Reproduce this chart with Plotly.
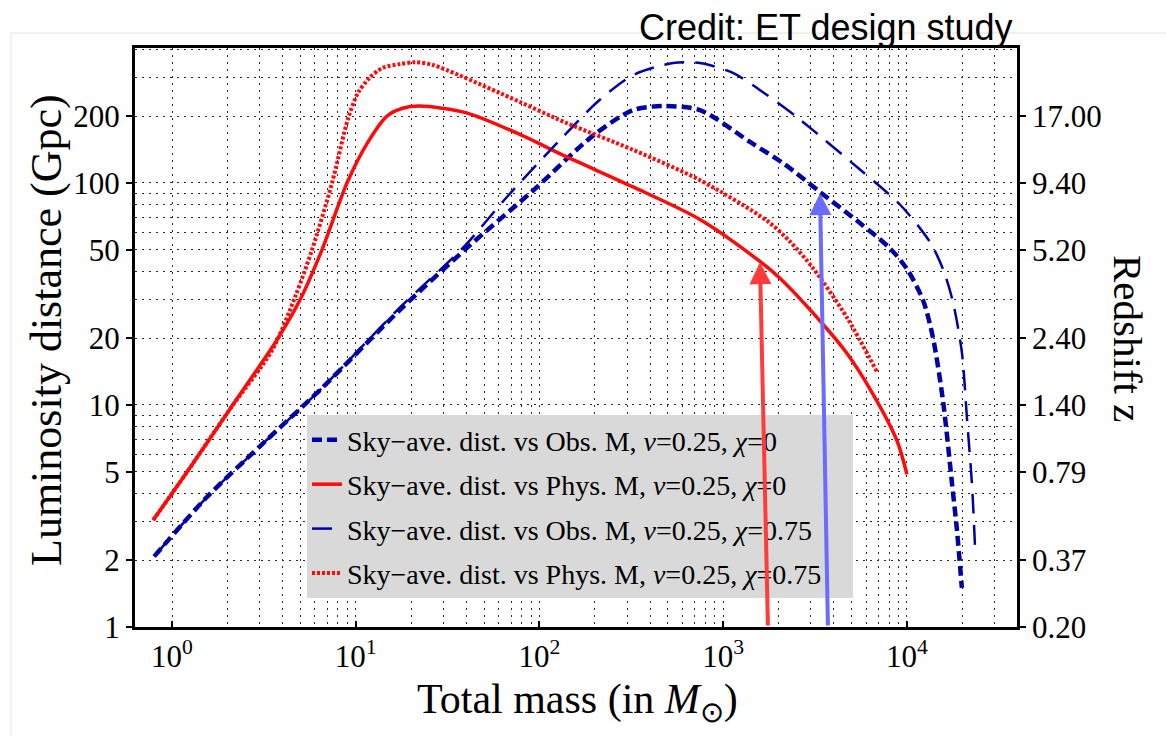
import numpy as np
import plotly.graph_objects as go

# ---------------- data ----------------
obs_chi0_mass = [0.8, 1.55, 3.0, 6.4, 17.4, 40.3, 93, 195, 323, 470, 747, 1400, 2170, 3363, 5547, 8077,
                 10000, 12220, 13840, 15700, 17580, 18710, 19900]
obs_chi0_dist = [2.08, 3.85, 6.5, 11.7, 26.8, 51, 93, 163, 213, 222, 213, 153, 121, 91, 66, 50.8,
                 41, 29.7, 20.2, 10.5, 4.45, 2.74, 1.5]

obs_chi075_mass = [0.8, 1.55, 3.0, 6.4, 17.4, 38.3, 66.5, 129, 213, 323, 533, 747, 1130, 1730, 2518, 3076,
                   5547, 9160, 13340, 15700, 17800, 19900, 21230, 22600, 23450]
obs_chi075_dist = [2.08, 3.85, 6.5, 11.7, 27.5, 51, 86.5, 156, 237, 306, 347, 347, 313, 249, 198, 173,
                   115, 80, 54.2, 41, 29.1, 17.3, 8.65, 4.37, 2.34]

phys_chi0_mass = [0.79, 1.21, 2.07, 3.78, 5.0, 6.55, 8.96, 11.5, 14.8, 18, 22.4, 40, 75, 141, 323, 747,
                  1585, 2037, 3490, 4710, 6530, 8830, 10000]
phys_chi0_dist = [3.03, 5.0, 9.6, 20.0, 30.0, 50, 100, 150, 200, 217, 222, 207, 168, 131, 96, 68.5,
                  44.3, 37.2, 23.1, 17.1, 11.2, 6.9, 4.87]

phys_chi075_mass = [0.79, 1.21, 2.07, 3.5, 4.7, 5.78, 7.43, 9.08, 10.3, 11.9, 14, 17.4, 21, 26.3, 61, 141,
                    323, 747, 1730, 2307, 3076, 4710, 6870]
phys_chi075_dist = [3.03, 5.0, 9.6, 17.6, 31, 50, 100, 195, 255, 298, 330, 343, 350, 340, 254, 186,
                    141, 103, 67.6, 54.5, 41.4, 24.8, 14.1]

legend_names = [
    "Sky\u2212ave. dist. vs Obs. M, <i>\u03bd</i>=0.25, <i>\u03c7</i>=0",
    "Sky\u2212ave. dist. vs Phys. M, <i>\u03bd</i>=0.25, <i>\u03c7</i>=0",
    "Sky\u2212ave. dist. vs Obs. M, <i>\u03bd</i>=0.25, <i>\u03c7</i>=0.75",
    "Sky\u2212ave. dist. vs Phys. M, <i>\u03bd</i>=0.25, <i>\u03c7</i>=0.75",
]

# arrows: (tip mass, tip distance) -> (tail mass, tail distance)
arrow_tip_mass = [1585, 3363]
arrow_tip_dist = [44, 90]
arrow_tail_mass = [1752, 3715]
arrow_tail_dist = [1, 1]
arrow_colors = ["#ff3b3b", "#6b6bff"]

x_tick_vals = [1, 10, 100, 1000, 10000]
x_tick_text = ["10<sup>0</sup>", "10<sup>1</sup>", "10<sup>2</sup>", "10<sup>3</sup>", "10<sup>4</sup>"]
y_tick_vals = [1, 2, 5, 10, 20, 50, 100, 200]
y_tick_text = ["1", "2", "5", "10", "20", "50", "100", "200"]
z_tick_text = ["0.20", "0.37", "0.79", "1.40", "2.40", "5.20", "9.40", "17.00"]

x_minor = [m * 10 ** d for d in range(0, 5) for m in range(2, 10)]
y_minor = [m * 10 ** d for d in range(0, 3) for m in range(2, 10)]

SERIF = "Liberation Serif"
NAVY = "#0000a8"
RED = "#ff0a0a"
GRID = "#2a2a2a"

fig = go.Figure()

fig.add_trace(go.Scatter(x=obs_chi0_mass, y=obs_chi0_dist, mode="lines", name=legend_names[0],
                         legendgroup="a",
                         line=dict(color=NAVY, width=4.5, dash="10px,5px", shape="spline", smoothing=0.8)))
fig.add_trace(go.Scatter(x=phys_chi0_mass, y=phys_chi0_dist, mode="lines", name=legend_names[1],
                         legendgroup="b",
                         line=dict(color=RED, width=3.5, shape="spline", smoothing=0.8)))
fig.add_trace(go.Scatter(x=obs_chi075_mass, y=obs_chi075_dist, mode="lines", name=legend_names[2],
                         legendgroup="c",
                         line=dict(color=NAVY, width=2.5, dash="20px,11px", shape="spline", smoothing=0.8)))
fig.add_trace(go.Scatter(x=phys_chi075_mass, y=phys_chi075_dist, mode="lines", name=legend_names[3],
                         legendgroup="d",
                         line=dict(color=RED, width=4, dash="3px,2px", shape="spline", smoothing=0.8)))
# carrier trace for the redshift axis
fig.add_trace(go.Scatter(x=obs_chi0_mass, y=obs_chi0_dist, mode="none", yaxis="y2",
                         showlegend=False, hoverinfo="skip"))

x_range = [-0.2014, 4.599]
y_range = [0, 2.608]

fig.update_layout(
    width=1166, height=736,
    margin=dict(l=135, r=149, t=48, b=109),
    paper_bgcolor="white", plot_bgcolor="white",
    font=dict(family=SERIF, color="black", size=31),
    showlegend=True,
    legend=dict(x=0.195, y=0.366, xanchor="left", yanchor="top",
                bgcolor="rgba(0,0,0,0)", borderwidth=0,
                font=dict(family=SERIF, size=28, color="black"),
                traceorder="grouped", tracegroupgap=5),
    xaxis=dict(type="log", range=x_range, tickvals=x_tick_vals, ticktext=x_tick_text,
               showline=True, linecolor="black", linewidth=2.5, mirror=True,
               ticks="inside", ticklen=6, tickwidth=2, tickcolor="black",
               showgrid=True, gridcolor=GRID, gridwidth=1, griddash="2px,5px",
               minor=dict(tickvals=x_minor, showgrid=True, gridcolor=GRID, gridwidth=1,
                          griddash="2px,5px", ticks=""),
               tickfont=dict(family=SERIF, size=31), zeroline=False),
    yaxis=dict(type="log", range=y_range, tickvals=y_tick_vals, ticktext=y_tick_text,
               showline=True, linecolor="black", linewidth=3, mirror=False,
               ticks="outside", ticklen=6, tickwidth=2, tickcolor="black",
               showgrid=True, gridcolor=GRID, gridwidth=1, griddash="2px,5px",
               minor=dict(tickvals=y_minor, showgrid=True, gridcolor=GRID, gridwidth=1,
                          griddash="2px,5px", ticks=""),
               tickfont=dict(family=SERIF, size=31), zeroline=False),
    yaxis2=dict(type="log", range=y_range, overlaying="y", side="right",
                tickvals=y_tick_vals, ticktext=z_tick_text,
                showline=True, linecolor="black", linewidth=2.5,
                ticks="outside", ticklen=6, tickwidth=2, tickcolor="black",
                showgrid=False, zeroline=False, tickfont=dict(family=SERIF, size=31)),
)

# legend background box
fig.add_shape(type="rect", xref="paper", yref="paper", x0=0.195, x1=0.814, y0=0.050, y1=0.366,
              fillcolor="#d9d9d9", line=dict(width=0), layer="above")

# faint outer border of the original picture
fig.add_shape(type="line", xref="paper", yref="paper", x0=(11 - 135) / 882, x1=(11 - 135) / 882,
              y0=(627 - 33) / 579, y1=(627 - 736) / 579, line=dict(color="#e2e2e2", width=1))
fig.add_shape(type="line", xref="paper", yref="paper", x0=(11 - 135) / 882, x1=(1166 - 135) / 882,
              y0=(627 - 33) / 579, y1=(627 - 33) / 579, line=dict(color="#e2e2e2", width=1))

# arrows
for tm, td, am, ad, col in zip(arrow_tip_mass, arrow_tip_dist, arrow_tail_mass, arrow_tail_dist, arrow_colors):
    fig.add_annotation(x=np.log10(tm), y=np.log10(td), ax=np.log10(am), ay=np.log10(ad),
                       xref="x", yref="y", axref="x", ayref="y", text="", showarrow=True,
                       arrowhead=2, arrowsize=1.1, arrowwidth=4, arrowcolor=col, standoff=0)

# titles
fig.add_annotation(text="Luminosity distance (Gpc)", xref="paper", yref="paper",
                   x=(46 - 135) / 882, y=(627 - 330) / 579, xanchor="center", yanchor="middle",
                   textangle=-90, showarrow=False, font=dict(family=SERIF, size=44))
fig.add_annotation(text="Total mass (in <i>M</i><sub>\u2299</sub>)", xref="paper", yref="paper",
                   x=(577 - 135) / 882, y=(627 - 702) / 579, xanchor="center", yanchor="middle",
                   showarrow=False, font=dict(family=SERIF, size=42))
fig.add_annotation(text="Redshift z", xref="paper", yref="paper",
                   x=(1128 - 135) / 882, y=(627 - 338) / 579, xanchor="center", yanchor="middle",
                   textangle=90, showarrow=False, font=dict(family=SERIF, size=41))
fig.add_annotation(text="Credit: ET design study", xref="paper", yref="paper",
                   x=(1015 - 135) / 882, y=(627 - 28) / 579, xanchor="right", yanchor="middle",
                   showarrow=False, font=dict(family="Liberation Sans", size=36))

fig.write_html("out.html")
